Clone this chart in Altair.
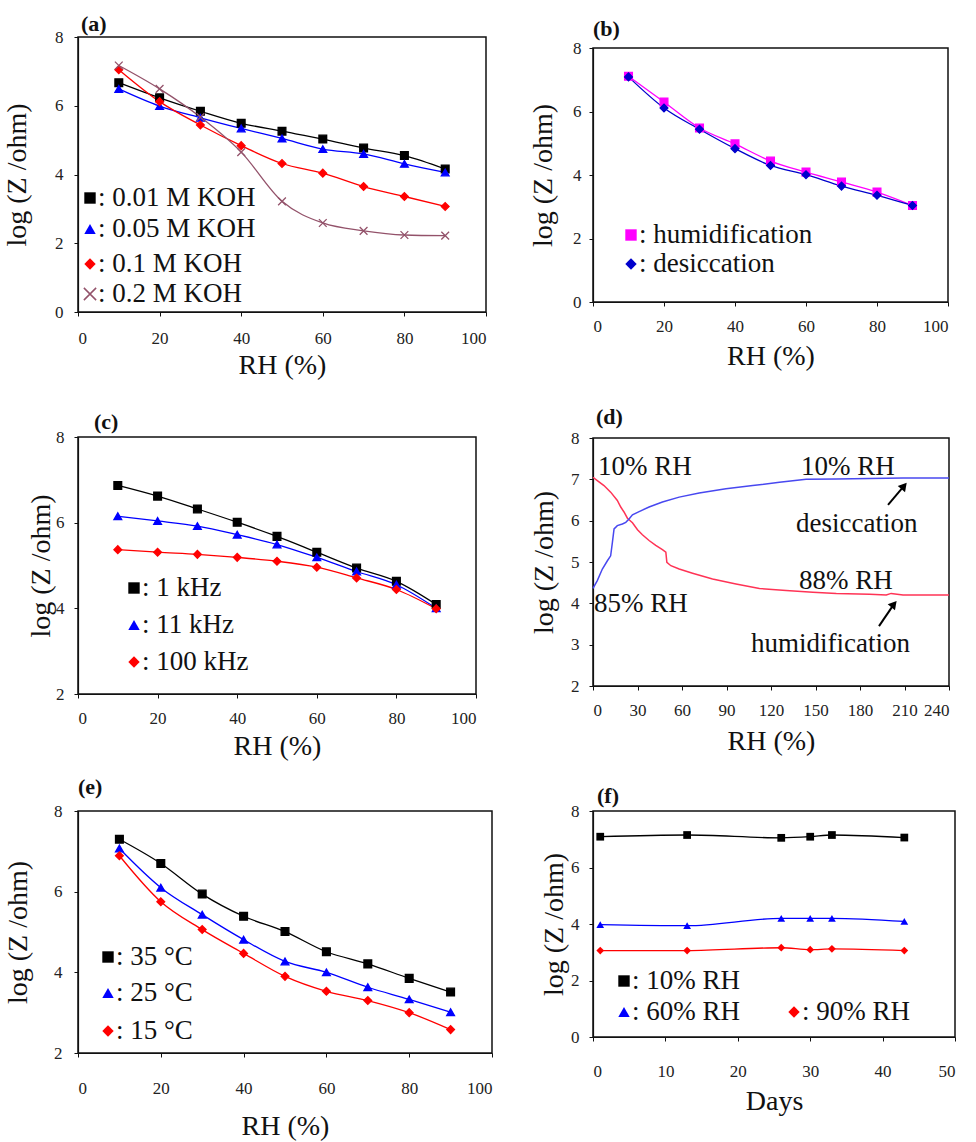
import altair as alt
import pandas as pd

FONT = "Liberation Serif"
XPATH = "M-1,-1L1,1M-1,1L1,-1"

# ---------------- data ----------------
rh = [10, 20, 30, 40, 50, 60, 70, 80, 90]

# (a) KOH concentration
koh_series = ["0.01 M KOH", "0.05 M KOH", "0.1 M KOH", "0.2 M KOH"]
koh_001 = [6.67, 6.23, 5.84, 5.49, 5.26, 5.03, 4.77, 4.55, 4.16]
koh_005 = [6.49, 5.99, 5.65, 5.34, 5.05, 4.74, 4.60, 4.31, 4.06]
koh_01 = [7.05, 6.12, 5.44, 4.84, 4.32, 4.04, 3.65, 3.36, 3.07]
koh_02 = [7.17, 6.49, 5.67, 4.65, 3.22, 2.59, 2.36, 2.24, 2.22]

# (b) hysteresis
hys_series = ["humidification", "desiccation"]
hys_hum = [7.11, 6.30, 5.48, 4.98, 4.44, 4.09, 3.78, 3.46, 3.04]
hys_des = [7.09, 6.11, 5.44, 4.83, 4.30, 4.01, 3.65, 3.36, 3.04]

# (c) frequency
freq_series = ["1 kHz", "11 kHz", "100 kHz"]
freq_1k = [6.87, 6.62, 6.32, 6.01, 5.68, 5.31, 4.94, 4.63, 4.09]
freq_11k = [6.15, 6.04, 5.92, 5.72, 5.49, 5.19, 4.86, 4.55, 4.00]
freq_100k = [5.37, 5.31, 5.26, 5.19, 5.10, 4.96, 4.71, 4.44, 3.99]

# (d) response / recovery
d_red_t = [0, 2.9, 7.4, 11.9, 16.4, 18.7, 20.9, 23.2, 26.6, 30.0, 33.3, 37.8, 42.3,
           46.8, 49.1, 49.8, 52.5, 58.1, 67.1, 80.6, 96.4, 112.2, 130.2, 148.2, 164,
           186.5, 197.7, 201, 209, 240]
d_red_z = [7.05, 6.97, 6.85, 6.69, 6.49, 6.33, 6.21, 6.06, 5.95, 5.78, 5.66, 5.52, 5.40,
           5.30, 5.24, 4.99, 4.91, 4.83, 4.73, 4.59, 4.47, 4.36, 4.31, 4.27, 4.24,
           4.22, 4.20, 4.24, 4.20, 4.20]
d_blue_t = [0, 2.9, 6.3, 9.7, 11.9, 13.1, 14.2, 16.4, 19.8, 22.1, 24.3, 26.6, 31.1, 37.8,
            46.8, 58.1, 71.6, 89.6, 107.7, 125.7, 143.7, 164, 186.5, 209, 240]
d_blue_z = [4.36, 4.55, 4.83, 5.03, 5.15, 5.48, 5.80, 5.88, 5.92, 5.96, 6.04, 6.14, 6.22,
            6.33, 6.45, 6.57, 6.67, 6.77, 6.85, 6.93, 7.00, 7.01, 7.02, 7.03, 7.03]
d_labels = ["10% RH", "10% RH", "85% RH", "88% RH", "desiccation", "humidification"]
d_label_t = [3.4, 140.2, 0.7, 138.9, 136.9, 106.5]
d_label_z = [7.30, 7.30, 3.98, 4.54, 5.92, 3.02]
d_arrow_t0 = [198.9, 192.8]
d_arrow_z0 = [6.38, 3.45]
d_arrow_t1 = [209.7, 202.9]
d_arrow_z1 = [6.84, 3.98]

# (e) temperature
temp_series = ["35 °C", "25 °C", "15 °C"]
temp_35 = [7.30, 6.70, 5.94, 5.39, 5.01, 4.51, 4.21, 3.85, 3.51]
temp_25 = [7.07, 6.10, 5.43, 4.81, 4.27, 4.00, 3.63, 3.33, 3.01]
temp_15 = [6.89, 5.75, 5.06, 4.47, 3.90, 3.53, 3.30, 3.00, 2.58]

# (f) long-term stability
days = [1, 13, 26, 30, 33, 43]
stab_series = ["10% RH", "60% RH", "90% RH"]
stab_10 = [7.09, 7.15, 7.05, 7.09, 7.15, 7.06]
stab_60 = [3.98, 3.94, 4.20, 4.20, 4.20, 4.09]
stab_90 = [3.06, 3.06, 3.16, 3.09, 3.12, 3.06]

one = pd.DataFrame({"k": [0]})
LEG_FS = 27


def long_df(xs, names, ys_list):
    rows = []
    for name, ys in zip(names, ys_list):
        for xv, yv in zip(xs, ys):
            rows.append({"x": xv, "y": yv, "series": name})
    return pd.DataFrame(rows)


def enc_xy(xdom, xvals, ydom, yvals, xtitle, x_lp, x_tp, y_lp, y_tp):
    x = alt.X("x:Q", scale=alt.Scale(domain=xdom, nice=False, zero=False),
              axis=alt.Axis(values=xvals, title=xtitle, labelPadding=x_lp,
                            titlePadding=x_tp, format="d"))
    y = alt.Y("y:Q", scale=alt.Scale(domain=ydom, nice=False, zero=False),
              axis=alt.Axis(values=yvals, title="log (Z /ohm)", labelPadding=y_lp,
                            titlePadding=y_tp, format="d"))
    return x, y


def ptitle(text, dy, dx):
    return alt.TitleParams(text=text, anchor="start", frame="group", font=FONT, fontSize=22,
                           fontWeight="bold", offset=0, dy=dy, dx=dx, color="#111")


def legend_layers(names, colors, shapes, positions):
    layers = []
    for name, col, shp, (px, py) in zip(names, colors, shapes, positions):
        if shp == XPATH:
            sym = alt.Chart(one).mark_point(shape=shp, filled=False, size=150, strokeWidth=1.5,
                                            color=col, opacity=1)
        else:
            sym = alt.Chart(one).mark_point(shape=shp, filled=True, size=130, color=col,
                                            opacity=1)
        layers.append(sym.encode(x=alt.value(px), y=alt.value(py)))
        layers.append(alt.Chart(one).mark_text(text=": " + name, align="left",
                                               baseline="middle", font=FONT, fontSize=LEG_FS,
                                               color="#111").encode(
            x=alt.value(px + 8), y=alt.value(py)))
    return layers


def series_panel(df, names, colors, shapes, leg_pos, xy, w, h, title):
    x, y = xy
    base = alt.Chart(df)
    line = base.mark_line(strokeWidth=1.3, interpolate="monotone").encode(
        x=x, y=y,
        color=alt.Color("series:N", scale=alt.Scale(domain=names, range=colors), legend=None),
    )
    pts = base.mark_point(filled=True, size=60, opacity=1, strokeWidth=1.3).encode(
        x=x, y=y,
        fill=alt.Fill("series:N", scale=alt.Scale(domain=names, range=colors), legend=None),
        stroke=alt.Stroke("series:N", scale=alt.Scale(domain=names, range=colors), legend=None),
        shape=alt.Shape("series:N", scale=alt.Scale(domain=names, range=shapes), legend=None),
    )
    legs = legend_layers(names, colors, shapes, leg_pos)
    return alt.layer(line, pts, *legs).properties(width=w, height=h, title=title)


# (a)
df_a = long_df(rh, koh_series, [koh_001, koh_005, koh_01, koh_02])
panel_a = series_panel(
    df_a, koh_series, ["#000000", "#0000FF", "#FF0000", "#93526A"],
    ["square", "triangle-up", "diamond", XPATH],
    [(12, 161), (12, 192), (12, 227), (12, 257)],
    enc_xy([0, 100], [0, 20, 40, 60, 80, 100], [0, 8], [0, 2, 4, 6, 8], "RH (%)", 14, 5, 11, 23),
    408, 275, ptitle("(a)", 8, 3))

# (b)
df_b = long_df(rh, hys_series, [hys_hum, hys_des])
panel_b = series_panel(
    df_b, hys_series, ["#FF00FF", "#0000CC"], ["square", "diamond"],
    [(38, 187), (38, 216)],
    enc_xy([0, 100], [0, 20, 40, 60, 80, 100], [0, 8], [0, 2, 4, 6, 8], "RH (%)", 12, 8, 8, 15),
    355, 254, ptitle("(b)", 2, 0))

# (c)
df_c = long_df(rh, freq_series, [freq_1k, freq_11k, freq_100k])
panel_c = series_panel(
    df_c, freq_series, ["#000000", "#0000FF", "#FF0000"], ["square", "triangle-up", "diamond"],
    [(56, 151), (56, 188), (56, 225)],
    enc_xy([0, 100], [0, 20, 40, 60, 80, 100], [2, 8], [2, 4, 6, 8], "RH (%)", 12, 6, 10, 0),
    398, 257, ptitle("(c)", 6, 16))

# (d)
df_d = pd.concat([
    pd.DataFrame({"x": d_red_t, "y": d_red_z, "series": "humidification"}),
    pd.DataFrame({"x": d_blue_t, "y": d_blue_z, "series": "desiccation"}),
])
xd, yd = enc_xy([0, 240], list(range(0, 241, 30)), [2, 8], [2, 3, 4, 5, 6, 7, 8],
                "RH (%)", 12, 9, 10, 12)
d_lines = alt.Chart(df_d).mark_line(strokeWidth=1.5).encode(
    x=xd, y=yd,
    color=alt.Color("series:N", scale=alt.Scale(domain=["humidification", "desiccation"],
                                                range=["#FF3355", "#4848F0"]), legend=None),
)
df_d_txt = pd.DataFrame({"x": d_label_t, "y": d_label_z, "label": d_labels})
d_text = alt.Chart(df_d_txt).mark_text(align="left", baseline="middle", font=FONT,
                                       fontSize=27, color="#111").encode(
    x=xd, y=yd, text="label:N")
arrow_rows = []
for i in range(len(d_arrow_t0)):
    arrow_rows.append({"x": d_arrow_t0[i], "y": d_arrow_z0[i], "a": i})
    arrow_rows.append({"x": d_arrow_t1[i], "y": d_arrow_z1[i], "a": i})
df_arrow = pd.DataFrame(arrow_rows)
d_arrow = alt.Chart(df_arrow).mark_line(strokeWidth=2, color="#000").encode(
    x=xd, y=yd, detail="a:N")
df_head = pd.DataFrame({"x": d_arrow_t1, "y": d_arrow_z1})
d_head = alt.Chart(df_head).mark_point(shape="triangle-up", filled=True, size=90,
                                       angle=40, color="#000", opacity=1).encode(x=xd, y=yd)
panel_d = alt.layer(d_lines, d_text, d_arrow, d_head).properties(
    width=356, height=248, title=ptitle("(d)", 0, 3))

# (e)
df_e = long_df(rh, temp_series, [temp_35, temp_25, temp_15])
panel_e = series_panel(
    df_e, temp_series, ["#000000", "#0000FF", "#FF0000"], ["square", "triangle-up", "diamond"],
    [(30, 146), (30, 182), (30, 220)],
    enc_xy([0, 100], [0, 20, 40, 60, 80, 100], [2, 8], [2, 4, 6, 8], "RH (%)", 23, 16, 12, 21),
    414, 242, ptitle("(e)", -3, 0))

# (f)
df_f = long_df(days, stab_series, [stab_10, stab_60, stab_90])
f_colors = ["#000000", "#0000FF", "#FF0000"]
f_shapes = ["square", "triangle-up", "diamond"]
xf, yf = enc_xy([0, 50], [0, 10, 20, 30, 40, 50], [0, 8], [0, 2, 4, 6, 8], "Days", 22, 8, 10, 2)
f_line = alt.Chart(df_f).mark_line(strokeWidth=1.3, interpolate="monotone").encode(
    x=xf, y=yf,
    color=alt.Color("series:N", scale=alt.Scale(domain=stab_series, range=f_colors), legend=None))
f_pts = alt.Chart(df_f).mark_point(filled=True, size=60, opacity=1).encode(
    x=xf, y=yf,
    color=alt.Color("series:N", scale=alt.Scale(domain=stab_series, range=f_colors), legend=None),
    shape=alt.Shape("series:N", scale=alt.Scale(domain=stab_series, range=f_shapes), legend=None))
f_legs = legend_layers(stab_series, f_colors, f_shapes, [(31, 170), (31, 201), (201, 201)])
panel_f = alt.layer(f_line, f_pts, *f_legs).properties(
    width=362, height=226, title=ptitle("(f)", 6, 4))


def spacer(h):
    return alt.Chart(one).mark_point(opacity=0).encode(
        x=alt.value(0), y=alt.value(0)).properties(
        width=10, height=h, view=alt.ViewBackground(stroke="transparent"))


indep = dict(color="independent", fill="independent", stroke="independent",
             shape="independent")

left = alt.vconcat(panel_a, spacer(125), panel_c, spacer(117), panel_e,
                   spacing=0, bounds="flush").resolve_scale(**indep)
right = alt.vconcat(spacer(11), panel_b, spacer(136), panel_d, spacer(125), panel_f,
                    spacing=0, bounds="flush").resolve_scale(**indep)

chart = alt.hconcat(left, right, spacing=34, bounds="full").resolve_scale(**indep).properties(
    padding={"left": 2, "top": 12, "right": 5, "bottom": 5},
    background="white",
).configure_view(stroke="#111", strokeWidth=1.5).configure_axis(
    labelFont=FONT, labelFontSize=17, labelColor="#222", titleFont=FONT, titleFontSize=28,
    titleFontWeight="normal", titleColor="#111", grid=False, tickSize=4, tickColor="#111",
    domainColor="#111", domainWidth=1.2,
).configure_title(font=FONT)

chart.save("out.html", embed_options={"renderer": "svg", "actions": False})
